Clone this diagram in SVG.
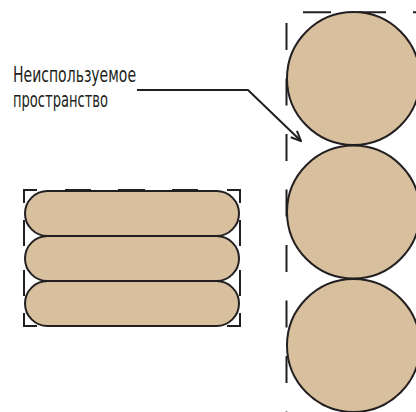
<svg xmlns="http://www.w3.org/2000/svg" width="416" height="412" viewBox="0 0 416 412">
<style>
.shape{fill:#d8bf9e;stroke:#231f20;stroke-width:2}
.frame{fill:none;stroke:#231f20;stroke-width:2}
.lbl{font-family:"DejaVu Sans","Liberation Sans",sans-serif;font-stretch:condensed;font-size:21.5px;fill:#231f20}
.lead{fill:none;stroke:#231f20;stroke-width:2}
</style>
<defs>
<marker id="arr" viewBox="0 0 12 12" refX="11" refY="6" markerWidth="12" markerHeight="12" markerUnits="userSpaceOnUse" orient="auto">
<path d="M1,1.5 L11,6 L1,10.5" fill="none" stroke="#231f20" stroke-width="2"/>
</marker>
</defs>
<rect width="416" height="412" fill="#ffffff"/>
<g id="pill-frame" class="frame">
<path d="M24,203 V190 H37 M227,190 H240 V203 M24,313 V326 H37 M227,326 H240 V313"/>
<path d="M65,190 H91 M118,190 H145 M172,190 H198 M65,326 H91 M118,326 H145 M172,326 H198"/>
<path d="M24,220 V246 M24,270 V296 M240,220 V246 M240,270 V296"/>
</g>
<g id="pill-1"><rect class="shape" x="25" y="191" width="214" height="45" rx="22.5"/></g>
<g id="pill-2"><rect class="shape" x="25" y="236" width="214" height="45" rx="22.5"/></g>
<g id="pill-3"><rect class="shape" x="25" y="281" width="214" height="45" rx="22.5"/></g>
<g id="circle-frame" class="frame">
<line x1="286.5" y1="23" x2="286.5" y2="412" stroke-dasharray="27 28.5"/>
<line x1="303" y1="12.3" x2="416" y2="12.3" stroke-dasharray="28 27"/>
</g>
<g id="circle-1"><circle class="shape" cx="353.5" cy="78.5" r="66.5"/></g>
<g id="circle-2"><circle class="shape" cx="353.5" cy="212" r="66.5"/></g>
<g id="circle-3"><circle class="shape" cx="353.5" cy="345.5" r="66.5"/></g>
<g id="label">
<text class="lbl" x="13" y="81.5" textLength="123" lengthAdjust="spacingAndGlyphs">Неиспользуемое</text>
<text class="lbl" x="13" y="106.5" textLength="95" lengthAdjust="spacingAndGlyphs">пространство</text>
</g>
<g id="connectors">
<path class="lead" d="M137,90 H248 L301,141" marker-end="url(#arr)"/>
</g>
</svg>
